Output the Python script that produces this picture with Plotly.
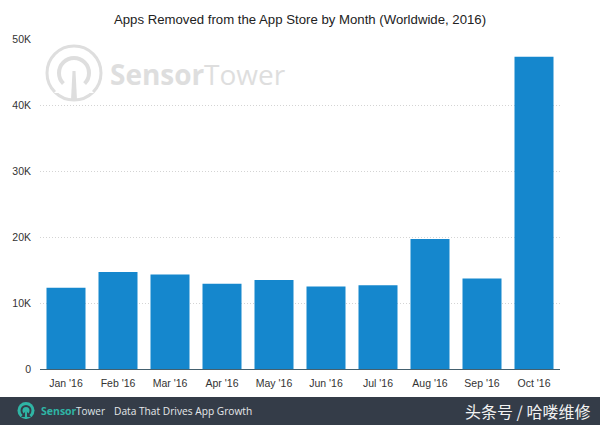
import plotly.graph_objects as go

W, H = 600, 425
L, R, T, B = 40, 40, 39, 56

months = ["Jan '16", "Feb '16", "Mar '16", "Apr '16", "May '16", "Jun '16", "Jul '16", "Aug '16", "Sep '16", "Oct '16"]
removed = [12300, 14700, 14300, 12900, 13500, 12500, 12700, 19700, 13700, 47300]
tick_vals = [0, 10000, 20000, 30000, 40000, 50000]
tick_text = ["0", "10K", "20K", "30K", "40K", "50K"]

WATERMARK = "#dedede"
TEAL = "#2fb5a5"
FOOTER = "#343c48"


# page pixels -> paper coordinates
def px(x):
    return (x - L) / (W - L - R)


def py(y):
    return (H - B - y) / (H - T - B)


def circle(cx, cy, r, **kw):
    return dict(type="circle", xref="paper", yref="paper", x0=px(cx - r), x1=px(cx + r),
                y0=py(cy + r), y1=py(cy - r), **kw)


def poly(points, color, layer="below"):
    path = "M " + " L ".join(f"{px(x)},{py(y)}" for x, y in points) + " Z"
    return dict(type="path", xref="paper", yref="paper", path=path, fillcolor=color, line_width=0, layer=layer)


def label(x, y, text, size, color, anchor="left", family="Open Sans"):
    return dict(xref="paper", yref="paper", x=px(x), y=py(y), text=text, showarrow=False, borderpad=0,
                xanchor=anchor, yanchor="middle", font=dict(size=size, color=color, family=family))


fig = go.Figure(go.Bar(x=months, y=removed, marker_color="#1587cd", marker_line_width=0, width=0.75))

shapes = [
    # footer band
    dict(type="rect", xref="paper", yref="paper", x0=px(0), x1=px(W), y0=py(H), y1=py(397),
         fillcolor=FOOTER, line_width=0, layer="below"),
    # watermark logo
    circle(74, 73, 27, line=dict(color=WATERMARK, width=3), layer="below"),
    circle(74, 73, 15, line=dict(color=WATERMARK, width=4), layer="below"),
    poly([(74, 73), (54, 93), (94, 93)], "white"),
    poly([(72.5, 71), (75.5, 71), (77, 100), (71, 100)], WATERMARK),
    # footer logo
    circle(26, 410.5, 8.5, fillcolor=TEAL, line_width=0),
    circle(26, 410.5, 5.5, fillcolor=FOOTER, line_width=0),
    circle(26, 410.5, 3.5, fillcolor=TEAL, line_width=0),
    poly([(26, 410.5), (21, 417), (31, 417)], FOOTER, layer="above"),
    poly([(25.2, 409), (26.8, 409), (27.2, 419), (24.8, 419)], TEAL, layer="above"),
]

annotations = [
    label(109, 74, "<b>Sensor</b>", 28, WATERMARK),
    label(203, 74, "Tower", 28, WATERMARK),
    label(40, 411, "<b>Sensor</b>", 10.5, TEAL),
    label(75, 411, "Tower", 10, "#dfe3e6"),
    label(113, 411, "Data That Drives App Growth", 10.2, "#e6e8ea"),
    label(591, 411, "头条号 / 哈喽维修", 16, "#f2f2f2", anchor="right", family="Noto Sans CJK SC"),
]

fig.update_layout(
    width=W,
    height=H,
    margin=dict(l=L, r=R, t=T, b=B, autoexpand=False),
    paper_bgcolor="white",
    plot_bgcolor="rgba(0,0,0,0)",
    showlegend=False,
    title=dict(text="Apps Removed from the App Store by Month (Worldwide, 2016)", x=0.5, xanchor="center",
               y=1 - 19 / H, yanchor="middle", font=dict(size=13.2, color="#222222", family="Liberation Sans")),
    font=dict(family="Liberation Sans", size=10.5, color="#333333"),
    shapes=shapes,
    annotations=annotations,
    xaxis=dict(showgrid=False, ticks="", showline=True, linecolor="#44606e", linewidth=1, ticklabelstandoff=4),
    yaxis=dict(range=[0, 50000], tickvals=tick_vals, ticktext=tick_text, gridcolor="#d4d4d4", griddash="1px,2px",
               gridwidth=1, zeroline=False, ticks="", ticklabelstandoff=8),
)

# page has a default 8px body margin, drop it so the figure fills the window
fig.write_html("out.html", config={"displayModeBar": False}, post_script="document.body.style.margin='0';")
